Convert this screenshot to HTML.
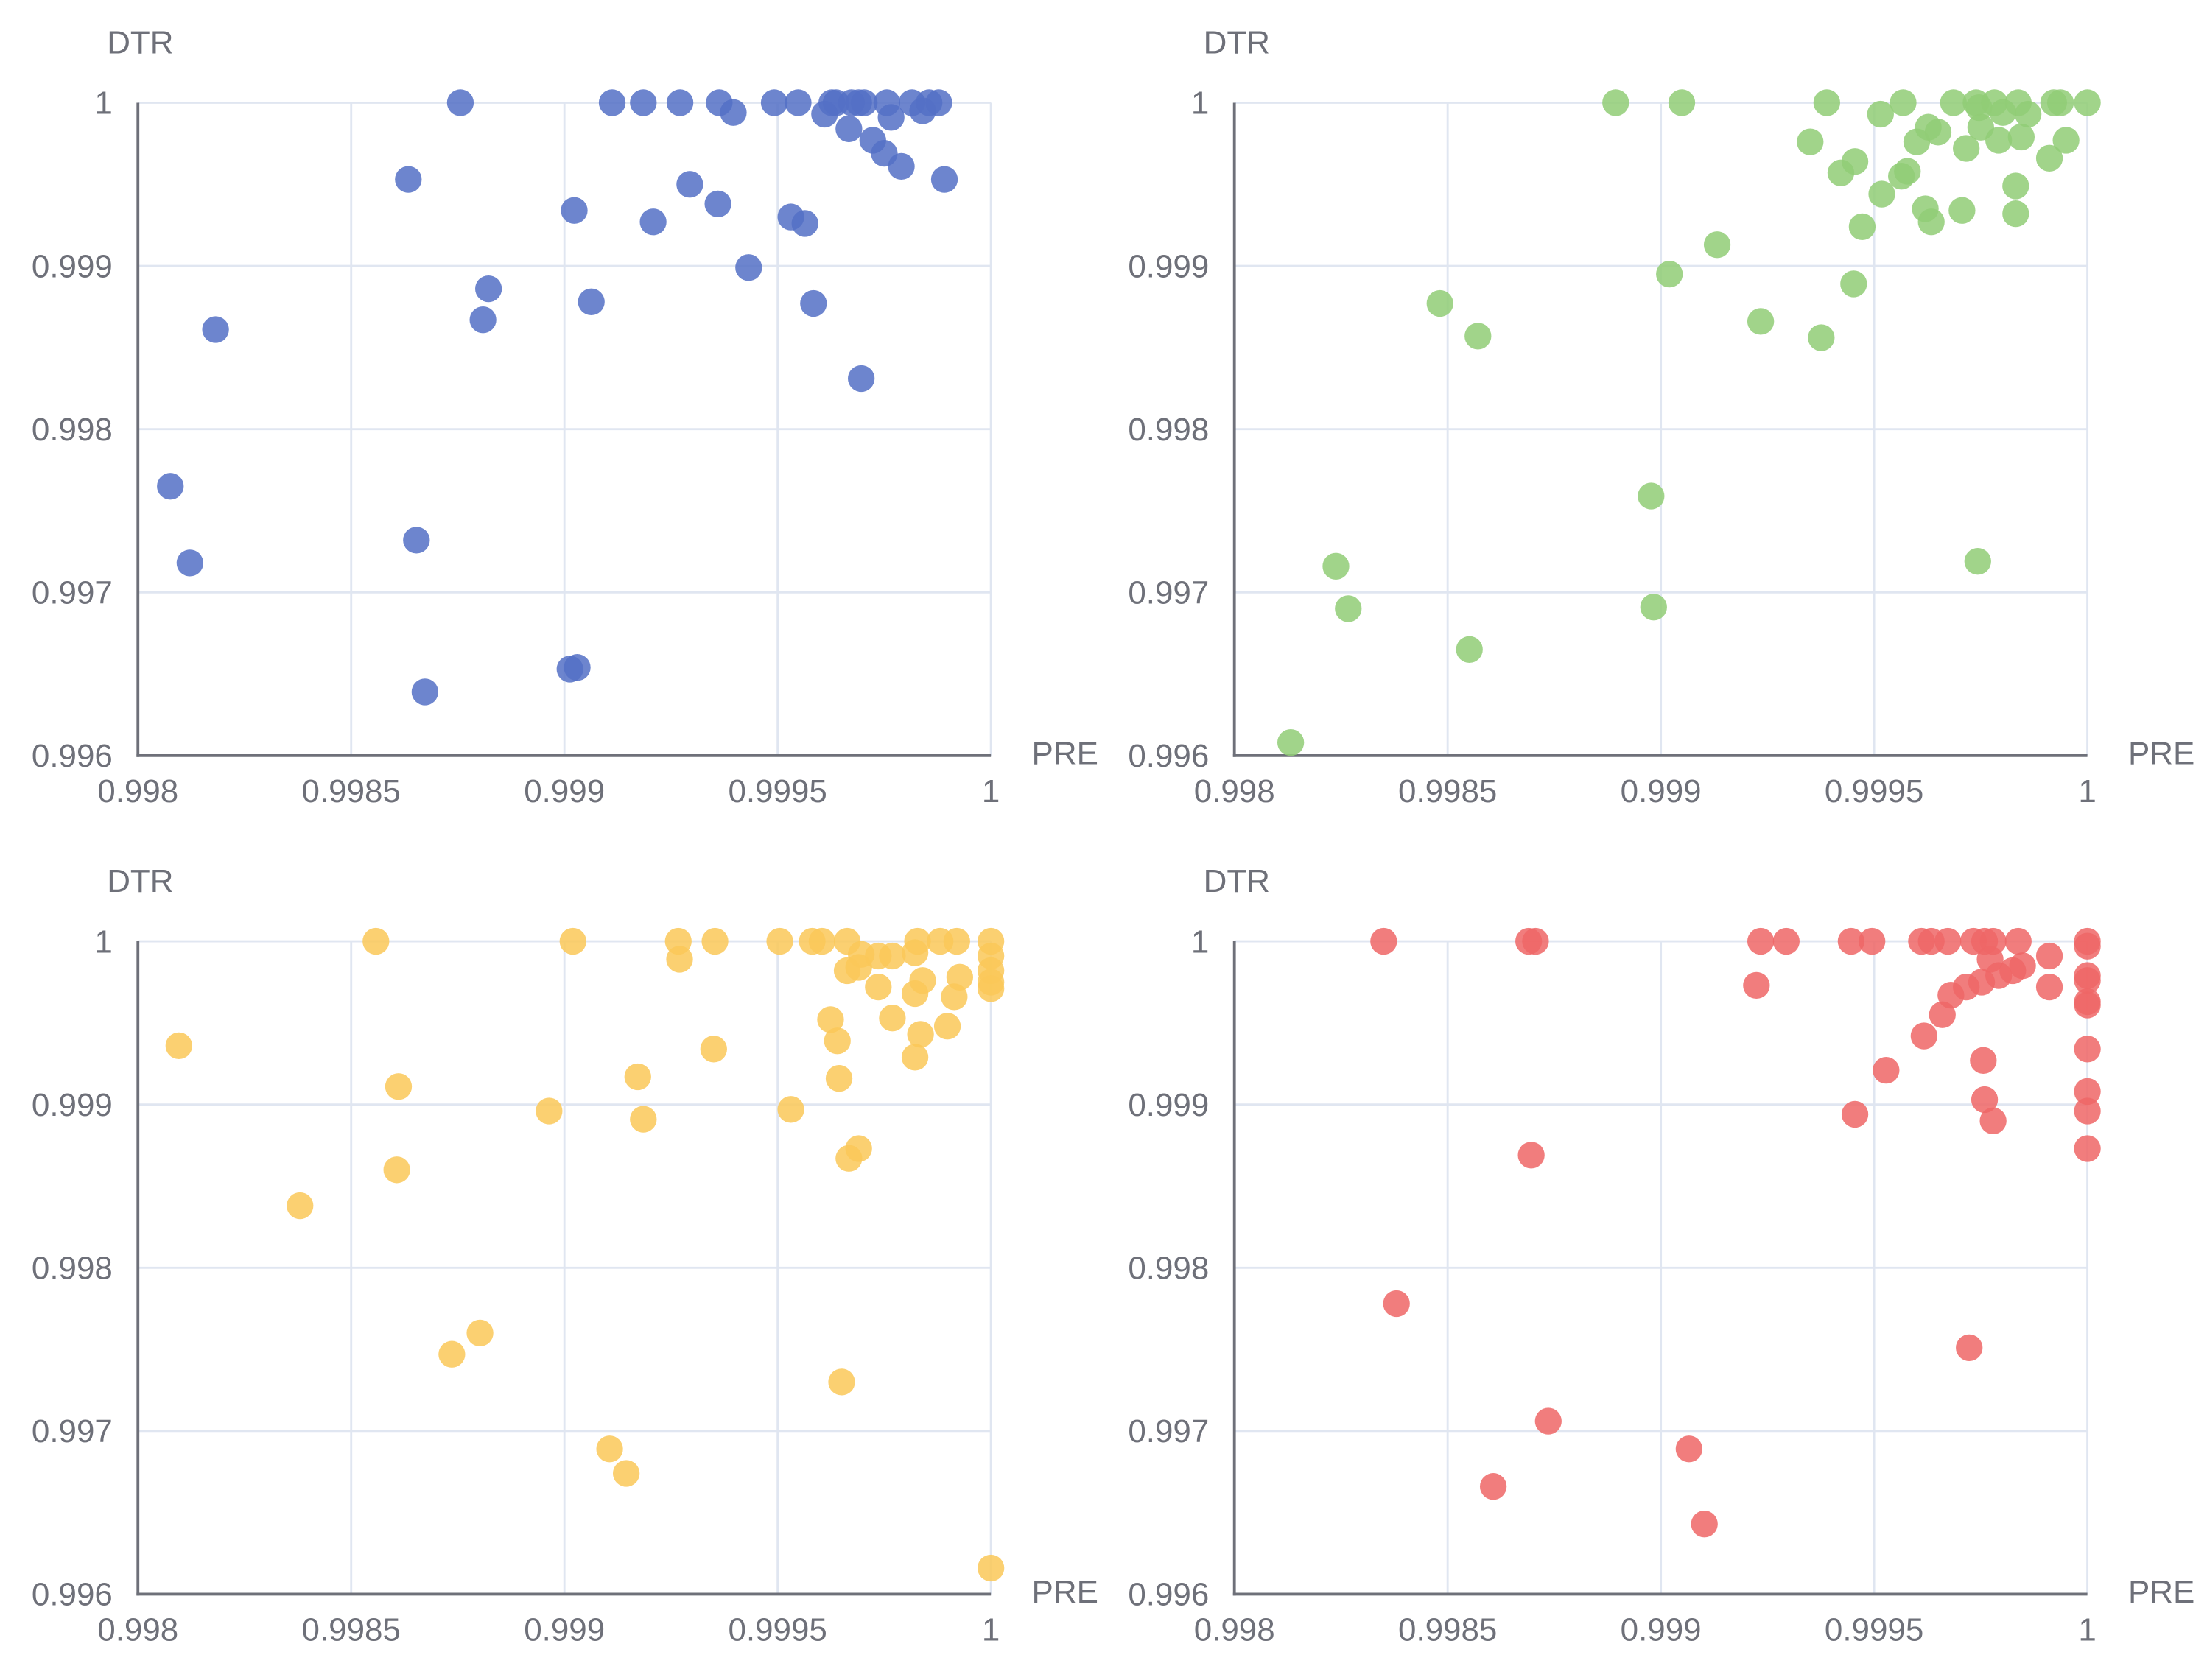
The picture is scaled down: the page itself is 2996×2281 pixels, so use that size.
<!DOCTYPE html>
<html><head><meta charset="utf-8"><style>
html,body{margin:0;padding:0;background:#fff;}
svg{display:block;}
text{font-family:"Liberation Sans","DejaVu Sans",sans-serif;fill:#6e7079;font-size:23px;}
</style></head><body>
<svg id="chart" width="2996" height="2281" viewBox="0 0 1568 1194" preserveAspectRatio="none" xmlns="http://www.w3.org/2000/svg"></svg>
<script>
const xTicks=[0.998,0.9985,0.999,0.9995,1];
const xTickLabels=["0.998","0.9985","0.999","0.9995","1"];
const yTicks=[0.996,0.997,0.998,0.999,1];
const yTickLabels=["0.996","0.997","0.998","0.999","1"];
const blueX=[0.998756,0.999112,0.999185,0.999271,0.999363,0.999492,0.999548,0.999627,0.999637,0.999673,0.999690,0.999703,0.999756,0.999815,0.999855,0.999878,0.999396,0.99961,0.999667,0.999723,0.99975,0.99979,0.999766,0.99984,0.999891,0.998634,0.999294,0.999023,0.99936,0.999208,0.999531,0.999564,0.999432,0.998822,0.998809,0.999063,0.999584,0.998182,0.999696,0.998076,0.998122,0.998653,0.998673,0.999013,0.99903];
const blueY=[1,1,1,1,1,1,1,1,1,1,1,1,1,1,1,1,0.99994,0.99993,0.99984,0.99977,0.99969,0.99961,0.99991,0.99995,0.99953,0.99953,0.9995,0.99934,0.99938,0.99927,0.9993,0.99926,0.99899,0.99886,0.99867,0.99878,0.99877,0.99861,0.99831,0.99765,0.99718,0.99732,0.99639,0.99653,0.99654];
const greenX=[0.998894,0.999049,0.999389,0.999568,0.999686,0.999739,0.999746,0.999782,0.999838,0.999921,0.999937,1,0.999515,0.999627,0.99965,0.9996,0.99935,0.999716,0.99975,0.999802,0.999861,0.999792,0.999845,0.99995,0.999911,0.999455,0.999422,0.999564,0.999578,0.999832,0.999518,0.99962,0.999706,0.999634,0.999832,0.999472,0.999132,0.99902,0.999452,0.998482,0.998571,0.999234,0.999376,0.998977,0.999743,0.998238,0.998267,0.998983,0.998551,0.998132];
const greenY=[1,1,1,1,1,1,0.99997,1,1,1,1,1,0.99993,0.99985,0.99982,0.99976,0.99976,0.99972,0.99985,0.99994,0.99993,0.99977,0.99979,0.99977,0.99966,0.99964,0.99957,0.99955,0.99958,0.99949,0.99944,0.99935,0.99934,0.99927,0.99932,0.99924,0.99913,0.99895,0.99889,0.99877,0.99857,0.99866,0.99856,0.99759,0.99719,0.99716,0.9969,0.99691,0.99665,0.99608];
const yellowX=[0.998558,0.99902,0.999267,0.999353,0.999505,0.999581,0.999604,0.999663,0.999828,0.999881,0.99992,1,0.99927,0.999696,0.999663,0.99969,0.999736,0.999769,0.999822,1,1,1,1,0.999927,0.99984,0.999736,0.999822,0.999914,0.999769,0.999624,0.999898,0.999835,0.99964,0.99935,0.999822,0.998096,0.998611,0.999172,0.999644,0.998964,0.999185,0.999531,0.99969,0.999667,0.998607,0.99838,0.998802,0.998736,0.99965,0.999106,0.999145,1];
const yellowY=[1,1,1,1,1,1,1,1,1,1,1,1,0.99989,0.99992,0.99982,0.99984,0.99991,0.99991,0.99993,0.99991,0.99982,0.99975,0.99971,0.99978,0.99976,0.99972,0.99968,0.99966,0.99953,0.99952,0.99948,0.99943,0.99939,0.99934,0.99929,0.99936,0.99911,0.99917,0.99916,0.99896,0.99891,0.99897,0.99873,0.99867,0.9986,0.99838,0.9976,0.99747,0.9973,0.99689,0.99674,0.99616];
const redX=[0.99835,0.99869,0.998706,0.999234,0.999294,0.999446,0.999495,0.999611,0.999634,0.999673,0.999733,0.999759,0.999779,0.999838,1,1,0.999911,0.999772,0.999848,0.999825,0.999792,0.999752,0.999716,0.99968,0.99966,0.999617,1,1,1,1,0.999224,0.999911,1,0.999756,0.999528,1,0.999759,1,0.999455,0.999779,1,0.998696,0.99838,0.999723,0.998736,0.999066,0.998607,0.999102];
const redY=[1,1,1,1,1,1,1,1,1,1,1,1,1,1,1,0.99997,0.99991,0.99989,0.99985,0.99982,0.99979,0.99975,0.99972,0.99967,0.99955,0.99942,0.99979,0.99976,0.99963,0.99961,0.99973,0.99972,0.99934,0.99927,0.99921,0.99908,0.99903,0.99896,0.99894,0.9989,0.99873,0.99869,0.99778,0.99751,0.99706,0.99689,0.99666,0.99643];

const NS="http://www.w3.org/2000/svg";
const svg=document.getElementById('chart');
function mk(tag,attrs,parent){const e=document.createElementNS(NS,tag);for(const k in attrs)e.setAttribute(k,attrs[k]);parent.appendChild(e);return e;}
const panels=[
 {name:'blue',x0:98,y0:73,xs:blueX,ys:blueY,color:'#5470c6'},
 {name:'green',x0:877,y0:73,xs:greenX,ys:greenY,color:'#91cc75'},
 {name:'yellow',x0:98,y0:669,xs:yellowX,ys:yellowY,color:'#fac858'},
 {name:'red',x0:877,y0:669,xs:redX,ys:redY,color:'#ee6666'}
];
const W=606,H=464;
panels.forEach(p=>{
 const g=mk('g',{},svg);
 
 
 const sx=v=>p.x0+(v-0.998)/0.002*W;
 const sy=v=>p.y0+(1-v)/0.004*H;
 xTicks.forEach((t,i)=>{
  const l=mk('line',{x1:sx(t),x2:sx(t),y1:p.y0,y2:p.y0+H,stroke:'#e0e6f1','stroke-width':1.5},g);
  
  
  const tx=mk('text',{x:sx(t),y:p.y0+H+33,'text-anchor':'middle'},g);tx.textContent=xTickLabels[i];
  
  
 });
 yTicks.forEach((t,i)=>{
  const l=mk('line',{x1:p.x0,x2:p.x0+W,y1:sy(t),y2:sy(t),stroke:'#e0e6f1','stroke-width':1.5},g);
  
  
  const tx=mk('text',{x:p.x0-18,y:sy(t)+8,'text-anchor':'end'},g);tx.textContent=yTickLabels[i];
  
  
 });
 const ax=mk('line',{x1:p.x0,x2:p.x0,y1:p.y0,y2:p.y0+H+1,stroke:'#6e7079','stroke-width':2},g);
 
 
 const bx=mk('line',{x1:p.x0-1,x2:p.x0+W,y1:p.y0+H,y2:p.y0+H,stroke:'#6e7079','stroke-width':2},g);
 
 
 const yt=mk('text',{x:p.x0-22,y:p.y0-35},g);yt.textContent='DTR';
 
 
 const xt=mk('text',{x:p.x0+W+29,y:p.y0+H+6},g);xt.textContent='PRE';
 
 
 p.xs.forEach((v,i)=>{
  const c=mk('circle',{cx:sx(v),cy:sy(p.ys[i]),r:9.5,fill:p.color,'fill-opacity':0.85},g);
  
  
 });
});
</script>
</body></html>
